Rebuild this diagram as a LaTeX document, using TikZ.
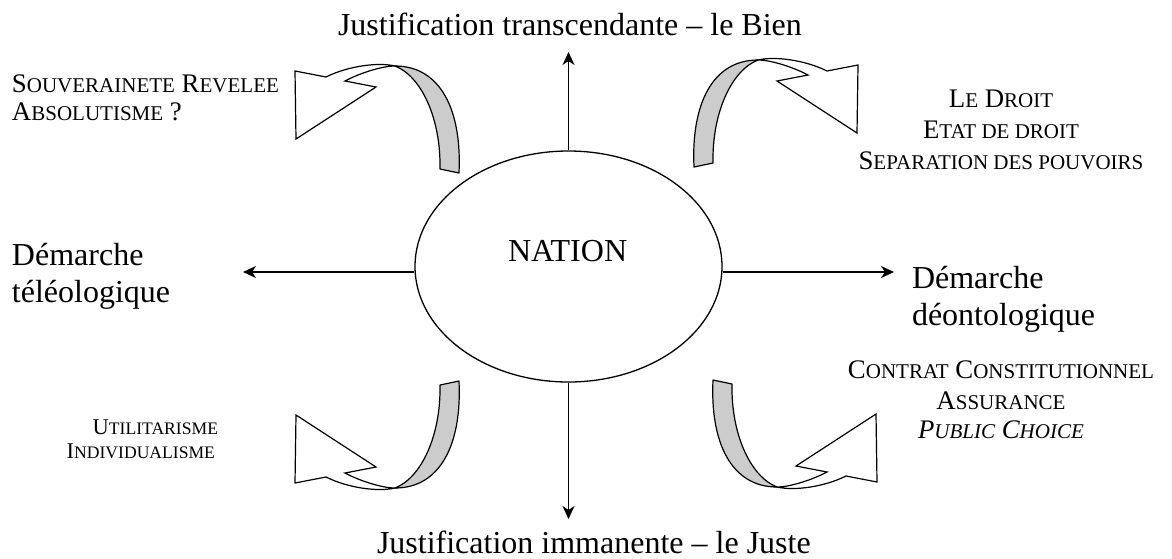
\documentclass[tikz,border=0pt]{standalone}
\usepackage{fontspec}
\setmainfont{Liberation Serif}
\usetikzlibrary{shapes.geometric,arrows.meta}
\tikzset{
 lbl/.style={inner sep=0pt, outer sep=0pt, font=\fontsize{32}{37}\selectfont},
 sctxt/.style={inner sep=0pt, outer sep=0pt, font=\fontsize{26.8}{31}\selectfont},
 scsmall/.style={inner sep=0pt, outer sep=0pt, font=\fontsize{22.5}{26}\selectfont},
 ax/.style={line width=1.3pt, -{Stealth[length=13pt,width=12pt,inset=4pt]}},
 ribbonback/.style={draw, line width=1.2pt, fill=black!20, line join=round},
 ribbonfront/.style={draw, line width=1.2pt, fill=white, line join=miter},
}
\newcommand{\smcA}[1]{{\fontsize{21}{24}\selectfont #1}}
\newcommand{\smcB}[1]{{\fontsize{17.6}{20}\selectfont #1}}
\newcommand{\curvribbon}{%
  \path[ribbonback] (694,167) .. controls (691,105) and (712,60) .. (758,60)
     .. controls (732,70) and (712,112) .. (713,163) -- cycle;
  \path[ribbonfront] (758,60) .. controls (775,56) and (805,60) .. (827,71)
     -- (858,65) -- (857,133) -- (777,81) -- (808,75)
     .. controls (795,68) and (772,60) .. (758,60) -- cycle;
}
\begin{document}
\begin{tikzpicture}[x=1pt,y=-1pt]
\useasboundingbox (0,0) rectangle (1172,558);
\node[ellipse, draw, line width=1.3pt, minimum width=307pt, minimum height=231pt, inner sep=0pt] (nation) at (568.5,266.5) {};
\node[lbl, anchor=base west] (ntxt) at (508,261) {NATION};
\coordinate (tipT) at (568.5,52);
\coordinate (tipB) at (568.5,519);
\coordinate (tipL) at (243,272);
\coordinate (tipR) at (894,272);
\draw[ax] (nation.north) -- (tipT);
\draw[ax] (nation.south) -- (tipB);
\draw[ax] (nation.west |- tipL) -- (tipL);
\draw[ax] (nation.east |- tipR) -- (tipR);

\node[lbl, anchor=base west] (top) at (338,35) {Justification transcendante -- le Bien};
\node[lbl, anchor=base west] (bot) at (377,553) {Justification immanente -- le Juste};
\node[lbl, anchor=base west] (l1) at (12,265) {Démarche};
\node[lbl, anchor=base west] (l2) at (12,302) {téléologique};
\node[lbl, anchor=base west] (r1) at (912,288) {Démarche};
\node[lbl, anchor=base west] (r2) at (912,325) {déontologique};

\node[sctxt, anchor=base west] (tl1) at (12,92) {S\smcA{OUVERAINETE} R\smcA{EVELEE}};
\node[sctxt, anchor=base west] (tl2) at (12,120) {A\smcA{BSOLUTISME} ?};
\node[sctxt, anchor=base] (tr1) at (1001,107) {L\smcA{E} D\smcA{ROIT}};
\node[sctxt, anchor=base] (tr2) at (1001,138) {E\smcA{TAT DE DROIT}};
\node[sctxt, anchor=base] (tr3) at (1001,169) {S\smcA{EPARATION DES POUVOIRS}};
\node[sctxt, anchor=base] (br1) at (1001,378) {C\smcA{ONTRAT} C\smcA{ONSTITUTIONNEL}};
\node[sctxt, anchor=base] (br2) at (1001,409) {A\smcA{SSURANCE}};
\node[sctxt, anchor=base] (br3) at (1001,438) {\itshape P\smcA{UBLIC} C\smcA{HOICE}};
\node[scsmall, anchor=base east] (bl1) at (218,434) {U\smcB{TILITARISME}};
\node[scsmall, anchor=base east] (bl2) at (215,458) {I\smcB{NDIVIDUALISME}};

\begin{scope}\curvribbon\end{scope}
\begin{scope}[shift={(1153,6)}, xscale=-1]\curvribbon\end{scope}
\begin{scope}[shift={(19,547)}, yscale=-1]\curvribbon\end{scope}
\begin{scope}[shift={(1153,548)}, scale=-1]\curvribbon\end{scope}
\end{tikzpicture}
\end{document}
